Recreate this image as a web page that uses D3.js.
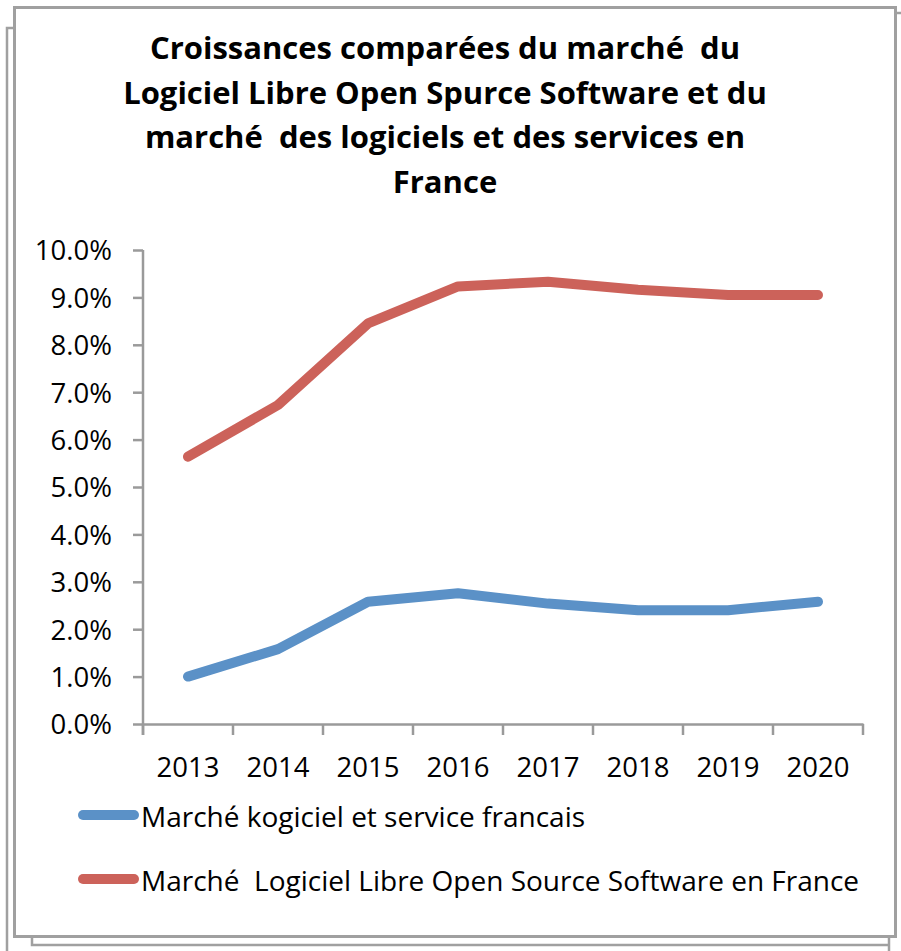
<!DOCTYPE html>
<html>
<head>
<meta charset="utf-8">
<script src="https://cdn.jsdelivr.net/npm/d3@7"></script>
<style>
  body { margin: 0; background: #fff; }
  svg text { white-space: pre; }
</style>
</head>
<body>
<svg id="chart" width="901" height="951"></svg>
<script>
const years = ["2013", "2014", "2015", "2016", "2017", "2018", "2019", "2020"]
const marcheLogiciel = [1.0, 1.58, 2.58, 2.76, 2.54, 2.4, 2.4, 2.58]
const marcheLibre = [5.64, 6.73, 8.45, 9.23, 9.33, 9.16, 9.05, 9.05]
const yTicks = [0, 1, 2, 3, 4, 5, 6, 7, 8, 9, 10]
const titleLines = [
    "Croissances comparées du marché  du",
    "Logiciel Libre Open Spurce Software et du",
    "marché  des logiciels et des services en",
    "France"
]
const seriesNames = [
    "Marché kogiciel et service francais",
    "Marché  Logiciel Libre Open Source Software en France"
]
const colors = ["#5b91c7", "#cc625a"]

const svg = d3.select("#chart")
const frame = "#a0a0a0"

// back frames peeking out behind the chart area
svg.append("path").attr("d", "M7,951V28H14").attr("fill", "none").attr("stroke", frame).attr("stroke-width", 2.5)
svg.append("path").attr("d", "M32,937V945H889").attr("fill", "none").attr("stroke", frame).attr("stroke-width", 2.5)
svg.append("path").attr("d", "M889,937V951").attr("fill", "none").attr("stroke", frame).attr("stroke-width", 2.5)
svg.append("path").attr("d", "M896,13H901").attr("fill", "none").attr("stroke", frame).attr("stroke-width", 2.5)
svg.append("rect")
    .attr("x", 14.5).attr("y", 7.5).attr("width", 881).attr("height", 929)
    .attr("fill", "#fff").attr("stroke", frame).attr("stroke-width", 3)

// title
svg.append("g").selectAll("text").data(titleLines).join("text")
    .attr("x", 445)
    .attr("y", (d, i) => 59 + i * 44.5)
    .attr("text-anchor", "middle")
    .attr("font-family", "Open Sans")
    .attr("font-weight", "bold")
    .attr("font-size", 31)
    .attr("fill", "#000")
    .text(d => d)

const x = d3.scaleBand().domain(years).range([143, 863])
const y = d3.scaleLinear().domain([0, 10]).range([724, 250])

const yAxis = svg.append("g")
    .attr("transform", "translate(143,0)")
    .call(d3.axisLeft(y).tickValues(yTicks).tickSize(10).tickSizeOuter(0)
        .tickFormat(d => d.toFixed(1) + "%"))
yAxis.select(".domain").attr("stroke", "#9a9a9a").attr("stroke-width", 2.5)
    .attr("d", "M0,250V735")
yAxis.selectAll(".tick line").attr("stroke", "#9a9a9a").attr("stroke-width", 2.5)
yAxis.selectAll(".tick text")
    .attr("x", -31).attr("dy", "0.36em")
    .attr("font-family", "Open Sans").attr("font-size", 27.5).attr("fill", "#000")

const xAxis = svg.append("g")
    .attr("transform", "translate(0,724)")
    .call(d3.axisBottom(x).tickSize(0).tickSizeOuter(0))
xAxis.select(".domain").attr("stroke", "#9a9a9a").attr("stroke-width", 2.5)
xAxis.selectAll(".tick text")
    .attr("y", 0).attr("dy", 53)
    .attr("font-family", "Open Sans").attr("font-size", 27.5).attr("fill", "#000")
// tick marks sit on band boundaries
xAxis.append("g").selectAll("line")
    .data(years.concat(["end"]))
    .join("line")
    .attr("x1", (d, i) => i < years.length ? x(d) : x(years[years.length - 1]) + x.bandwidth())
    .attr("x2", (d, i) => i < years.length ? x(d) : x(years[years.length - 1]) + x.bandwidth())
    .attr("y1", 0).attr("y2", 11)
    .attr("stroke", "#9a9a9a").attr("stroke-width", 2.5)

const line = d3.line()
    .x((d, i) => x(years[i]) + x.bandwidth() / 2)
    .y(d => y(d))

;[marcheLogiciel, marcheLibre].forEach((s, k) => {
    svg.append("path")
        .attr("fill", "none")
        .attr("stroke", colors[k])
        .attr("stroke-width", 10)
        .attr("stroke-linecap", "round")
        .attr("stroke-linejoin", "round")
        .attr("d", line(s))
})

// legend
const legend = svg.append("g")
seriesNames.forEach((name, k) => {
    const ly = 815 + k * 64
    legend.append("line")
        .attr("x1", 83).attr("x2", 134).attr("y1", ly).attr("y2", ly)
        .attr("stroke", colors[k]).attr("stroke-width", 10).attr("stroke-linecap", "round")
    legend.append("text")
        .attr("x", 141).attr("y", ly + 12)
        .attr("font-family", "Open Sans").attr("font-size", 28).attr("fill", "#000")
        .text(name)
})
</script>
</body>
</html>
